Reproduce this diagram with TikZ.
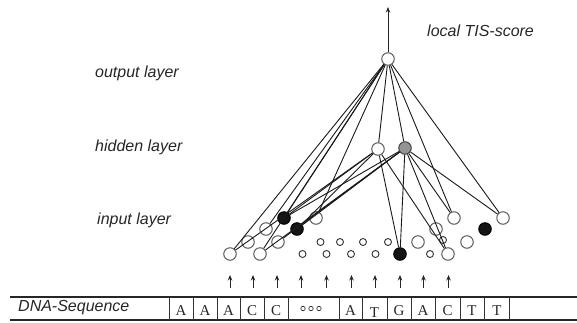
\documentclass[tikz,border=0pt]{standalone}
\usepackage{fontspec}
\setmainfont{Liberation Serif}
\newfontfamily\labfont{Liberation Sans}
\usetikzlibrary{arrows.meta}
\begin{document}
\begin{tikzpicture}[x=1pt,y=-1pt,
  unit/.style={circle,draw=black!65,line width=1pt,minimum size=12.5pt,inner sep=0pt,fill=white},
  bunit/.style={unit,fill=black!92,draw=black},
  gunit/.style={unit,fill=black!42,draw=black!75},
  smallunit/.style={circle,draw=black!80,line width=0.9pt,minimum size=7pt,inner sep=0pt,fill=white},
  gapdot/.style={circle,draw=black!80,line width=0.7pt,minimum size=4.4pt,inner sep=0pt},
  link/.style={line width=0.9pt,draw=black!90},
  layerlabel/.style={font=\labfont\itshape\fontsize{16}{18}\selectfont,text=black!85,inner sep=0pt,anchor=base west},
  seqletter/.style={font=\fontsize{15}{17}\selectfont,text=black!85,inner sep=0pt,anchor=base},
  feed/.style={line width=1pt,draw=black!85,-{Stealth[length=5.5pt,width=4.5pt]}},
]
\useasboundingbox (0,0) rectangle (577,322);

% layer captions
\node[layerlabel] (lout) at (95,77) {output layer};
\node[layerlabel] (lhid) at (95,151.5) {hidden layer};
\node[layerlabel] (lin)  at (97,224) {input layer};
\node[layerlabel] (lscore) at (427,36.5) {local TIS-score};

% output and hidden units
\node[unit]  (O)  at (388,59) {};
\node[unit]  (HW) at (378,149) {};
\node[gunit] (HG) at (405,148) {};
\coordinate (top) at (388,7);

% input units, four per sequence position, drawn in perspective
\node[unit]  (i1) at (230,254) {};
\node[unit]  (i2) at (248,242) {};
\node[unit]  (i3) at (266,229) {};
\node[bunit] (i4) at (284,218) {};
\node[unit]  (i5) at (260,254) {};
\node[unit]  (i6) at (278,242) {};
\node[unit]  (i8) at (316,218) {};
\node[bunit] (i7) at (297,229) {};

\node[unit]  (j4) at (454,218) {};
\node[unit]  (j3) at (436,229) {};
\node[unit]  (j2) at (418,242) {};
\node[bunit] (j1) at (400,254) {};
\node[unit]  (k4) at (503,218) {};
\node[bunit] (k3) at (485,229) {};
\node[unit]  (k2) at (467,242) {};
\node[unit]  (k1) at (448,254) {};

% units of the elided positions
\foreach \x/\n in {302.5/s1,326.5/s2,351/s3,375.5/s4,430/s5}
  \node[smallunit] (\n) at (\x,254) {};
\foreach \x/\n in {320.5/t1,340/t2,363/t3,388/t4}
  \node[smallunit] (\n) at (\x,242) {};
\node[smallunit] (t5) at (443,240) {};

% weights: output unit
\foreach \t in {i1,i3,i4,i5,i8,HW,HG,j4,k4}
  \draw[link] (O) -- (\t);
% weights: hidden units
\foreach \t in {i1,i4,i7,j1,k1}
  \draw[link] (HW) -- (\t);
\foreach \t in {i4,i7,i5,i6,j1,k1,j4,k4}
  \draw[link] (HG) -- (\t);

% network output
\draw[feed] (O) -- (top);

% sequence fed into the input layer
\foreach \x [count=\k] in {230,253,277,301,326.5,351.5,375,400,423.5,448.5}{
  \coordinate (fa\k) at (\x,288);
  \coordinate (fb\k) at (\x,275);
  \draw[feed] (fa\k) -- (fb\k);
}

% sequence table
\draw[line width=1.2pt,black!85] (10,297) -- (577,297);
\draw[line width=1.2pt,black!85] (10,320) -- (577,320);
\foreach \x in {169,193,217,240,264,288,339,362,387,411,435,460,484,509}
  \draw[line width=0.8pt,black!80] (\x,297) -- (\x,320);

\node[layerlabel] (dna) at (18,311.5) {DNA-Sequence};
\foreach \x/\c [count=\k] in {181/A,205/A,228.5/A,252/C,276/C,350.5/A,399/G,423/A,447.5/C,472/T,497/T}
  \node[seqletter] (b\k) at (\x,315) {\c};
\node[seqletter] (bT) at (374.5,317.5) {T};
\foreach \x [count=\k] in {303,311,319}
  \node[gapdot] (g\k) at (\x,308.5) {};
\end{tikzpicture}
\end{document}
